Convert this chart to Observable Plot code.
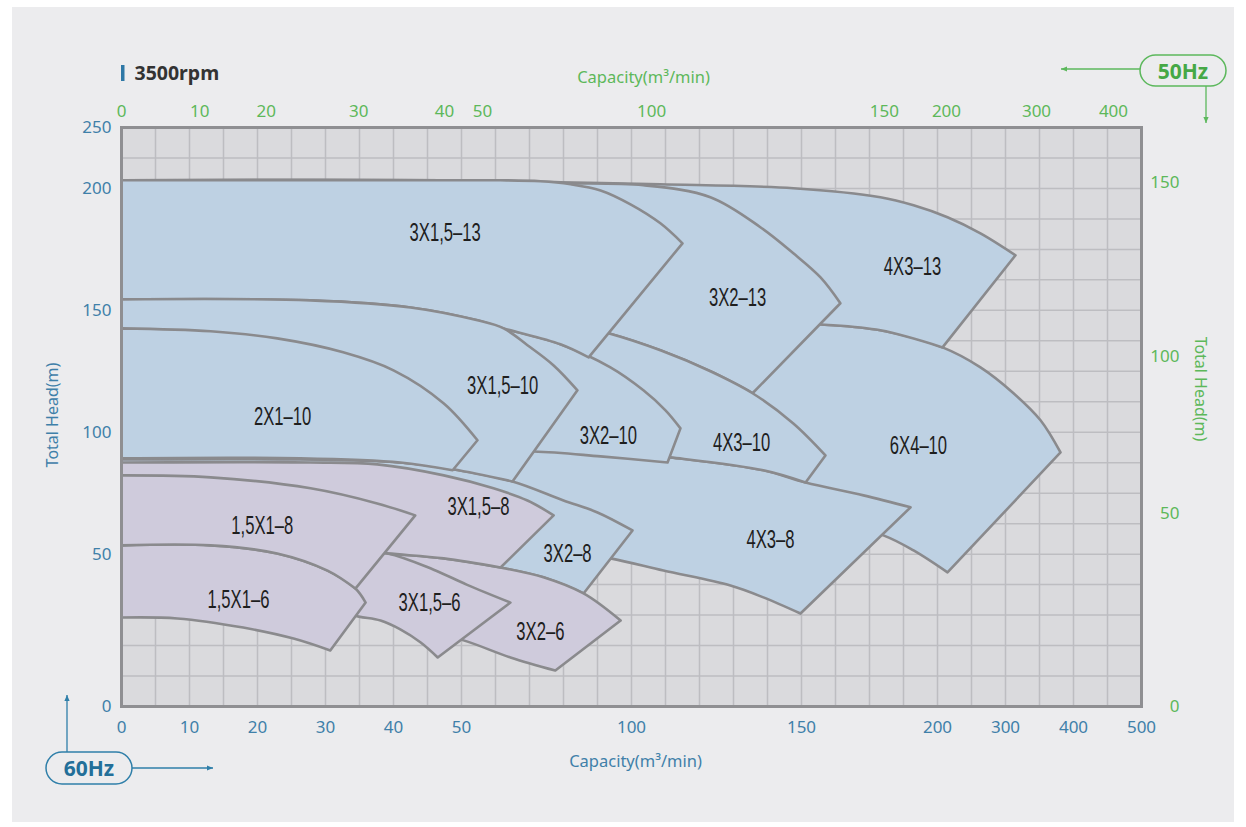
<!DOCTYPE html>
<html>
<head>
<meta charset="utf-8">
<script src="https://cdn.jsdelivr.net/npm/d3@7"></script>
<script src="https://cdn.jsdelivr.net/npm/@observablehq/plot@0.6"></script>
<style>
html, body { margin:0; padding:0; background:#ffffff; width:1246px; height:827px; overflow:hidden; }
#panel { position:absolute; left:12px; top:7px; width:1222px; height:815px; background:#ececee; }
#chart { position:absolute; left:0; top:0; }
</style>
</head>
<body>
<div id="panel"></div>
<div id="chart"></div>
<script>
// ---------- scale breakpoints / ticks ----------
const xDomain = [0, 50, 150, 200, 500];          // capacity 60Hz (piecewise)
const yDomain = [0, 50, 200, 250];               // head 60Hz (piecewise)
const bottomTicks = [0, 10, 20, 30, 40, 50, 100, 150, 200, 300, 400, 500];
const leftTicks = [0, 50, 100, 150, 200, 250];
const gridQ = [0,5,10,15,20,25,30,35,40,45,50,60,70,80,90,100,110,120,130,140,150,162.5,175,187.5,200,250,300,350,400,450,500];
const gridH = [0,10,20,30,40,50,62.5,75,87.5,100,112.5,125,137.5,150,162.5,175,187.5,200,225,250];
// 50Hz axes (labels placed at equivalent 60Hz positions)
const topTickLabels = ["0","10","20","30","40","50","100","150","200","300","400"];
const topTickQ = [0, 11.5, 21.3, 34.9, 47.5, 56.2, 105.9, 180.5, 213.2, 345.6, 458.8];
const rightTickLabels = ["0","50","100","150"];
const rightTickH = [0, 66.7, 131.1, 205.1];

// ---------- pump regions: top curve (left->right), bottom curve (right->left) ----------
const top_6x4_10 = [[0,154.5],[61.5,153.7],[90.9,152.1],[114.4,148.8],[135.6,145.9],[156.3,144.3],[179.0,141.8],[207.4,134.8],[263.2,126.6],[311.8,116.0],[351.5,104.9],[380.9,91.7]];
const bot_6x4_10 = [[214.7,44.0],[191.2,51.5],[180.1,57.7],[149.7,67.1],[120.3,75.3],[90.9,81.1],[48.4,80.2],[0,85.2]];
const top_4x3_13 = [[0,206.7],[48.4,206.7],[79.1,205.1],[108.5,203.4],[147.6,200.2],[179.0,196.4],[191.2,193.1],[214.7,188.2],[263.2,181.6],[314.7,172.6]];
const bot_4x3_13 = [[207.4,134.8],[179.0,141.8],[156.3,144.3],[135.6,145.9],[114.4,148.8],[90.9,152.1],[61.5,153.7],[0,154.5]];
const top_3x2_13 = [[0,206.7],[48.4,206.7],[79.1,204.3],[103.5,202.6],[123.2,196.4],[137.9,184.1],[147.6,173.4],[157.0,163.5],[164.3,152.9]];
const bot_3x2_13 = [[135.6,116.0],[123.2,125.0],[108.5,133.6],[93.2,140.6],[79.1,145.1],[61.5,149.2],[42.5,152.9],[27.8,154.1],[0,154.5]];
const top_4x3_8 = [[0,90.5],[48.4,91.7],[71.2,93.4],[90.9,92.6],[111.5,89.7],[138.8,84.4],[151.5,79.4],[172.8,74.1],[190.1,69.2]];
const bot_4x3_8 = [[149.7,30.5],[138.8,35.8],[129.1,39.7],[109.4,44.6],[93.8,48.6],[79.1,51.5],[61.5,53.6],[0,55.6]];
const top_4x3_10 = [[0,154.5],[27.8,154.1],[42.5,152.9],[61.5,149.2],[79.1,145.1],[93.2,140.6],[108.5,133.6],[123.2,125.0],[135.6,116.0],[147.6,103.6],[158.8,90.5]];
const bot_4x3_10 = [[151.5,79.4],[138.8,84.4],[111.5,89.7],[90.9,92.6],[71.2,93.4],[48.4,91.7],[0,90.5]];
const top_3x2_10 = [[0,154.5],[27.8,154.1],[42.5,151.2],[54.7,145.9],[62.4,142.6],[79.1,136.1],[93.8,126.6],[103.5,117.2],[110.0,109.0],[114.4,101.6]];
const bot_3x2_10 = [[110.6,87.6],[90.9,90.1],[71.2,92.1],[48.4,91.3],[0,90.1]];
const top_3x15_13 = [[0,206.7],[48.4,206.7],[61.5,206.7],[73.2,205.9],[82.1,203.4],[90.9,199.2],[99.7,193.5],[108.5,185.7],[115.0,177.5]];
const bot_3x15_13 = [[87.4,130.7],[79.1,136.1],[62.4,142.6],[54.7,145.9],[42.5,151.2],[27.8,154.1],[0,154.5]];
const top_3x2_8 = [[0,88.9],[26.3,88.9],[41.0,87.6],[48.7,84.8],[65.0,79.8],[80.0,72.0],[90.0,67.1],[100.3,59.7]];
const bot_3x2_8 = [[85.9,37.1],[74.1,42.4],[61.5,45.6],[47.4,48.6],[39.1,50.3],[30.7,52.7],[19.0,55.6],[0,57.7]];
const top_3x15_10 = [[0,154.5],[27.8,154.1],[42.5,151.2],[54.7,145.9],[62.4,142.6],[69.4,135.7],[77.1,127.4],[84.1,117.2]];
const bot_3x15_10 = [[65.0,79.8],[48.7,84.8],[41.0,87.6],[26.3,88.9],[0,88.9]];
const top_2x1_10 = [[0,142.6],[13.1,141.4],[22.9,138.5],[32.6,132.8],[40.0,125.4],[47.4,111.8],[54.7,96.7]];
const bot_2x1_10 = [[48.7,84.4],[41.0,87.6],[26.3,89.3],[0,89.3]];
const top_3x2_6 = [[0,57.7],[19.0,55.6],[30.7,52.7],[39.1,50.3],[47.4,48.6],[61.5,45.6],[74.1,42.4],[85.9,37.1],[96.8,28.2]];
const bot_3x2_6 = [[77.6,11.8],[64.4,16.1],[50.6,21.7],[44.0,25.0],[33.7,30.9],[19.0,34.8],[0,36.4]];
const top_3x15_6 = [[0,55.6],[19.0,54.0],[30.7,51.9],[39.1,50.3],[45.9,44.9],[51.5,40.0],[64.4,34.1]];
const bot_3x15_6 = [[46.5,16.1],[44.0,21.0],[41.0,25.3],[38.1,28.2],[34.9,29.5],[26.3,33.2],[11.6,35.5],[0,36.4]];
const top_3x15_8 = [[0,87.6],[27.8,87.6],[37.6,86.8],[47.4,82.3],[59.4,77.0],[69.4,72.0],[77.1,65.9]];
const bot_3x15_8 = [[61.5,45.6],[47.4,48.6],[39.1,50.3],[30.7,52.7],[19.0,55.6],[0,57.7]];
const top_15x1_6 = [[0,53.6],[13.1,53.6],[22.9,50.3],[30.3,44.6],[34.4,38.7],[35.9,34.1]];
const bot_15x1_6 = [[30.7,18.4],[25.3,22.3],[17.9,25.9],[8.2,28.9],[0,29.2]];
const top_15x1_8 = [[0,82.3],[13.1,81.5],[27.8,77.0],[37.6,70.8],[43.2,65.9]];
const bot_15x1_8 = [[34.4,38.7],[30.3,44.6],[22.9,50.3],[13.1,53.6],[0,53.6]];

// ---------- region labels ----------
const labelNames = ["3X1,5–13","3X2–13","4X3–13","3X1,5–10","2X1–10","3X2–10","4X3–10","6X4–10","3X1,5–8","1,5X1–8","3X2–8","4X3–8","1,5X1–6","3X1,5–6","3X2–6"];
const labelQ = [47.6, 131.2, 190.8, 62.1, 23.7, 93.2, 132.4, 193.0, 55.0, 20.7, 81.2, 140.9, 17.2, 45.3, 73.2];
const labelH = [181.6, 154.9, 167.6, 118.8, 106.1, 98.3, 95.4, 94.2, 69.2, 61.4, 49.9, 55.6, 34.8, 34.1, 24.6];

// ---------- styling ----------
const BLUE = "#bed1e3", PURPLE = "#cfcbdc", EDGE = "#8a8a8d";
const AX_BLUE = "#3f80a9", AX_GREEN = "#5db85a";

const drawOrder = [
  [top_6x4_10, bot_6x4_10, BLUE],
  [top_4x3_13, bot_4x3_13, BLUE],
  [top_3x2_13, bot_3x2_13, BLUE],
  [top_4x3_8, bot_4x3_8, BLUE],
  [top_4x3_10, bot_4x3_10, BLUE],
  [top_3x2_10, bot_3x2_10, BLUE],
  [top_3x15_13, bot_3x15_13, BLUE],
  [top_3x2_8, bot_3x2_8, BLUE],
  [top_3x15_10, bot_3x15_10, BLUE],
  [top_2x1_10, bot_2x1_10, BLUE],
  [top_3x2_6, bot_3x2_6, PURPLE],
  [top_3x15_6, bot_3x15_6, PURPLE],
  [top_3x15_8, bot_3x15_8, PURPLE],
  [top_15x1_6, bot_15x1_6, PURPLE],
  [top_15x1_8, bot_15x1_8, PURPLE]
];

// closed outline; corners repeated so the curve keeps them sharp
function outline(top, bot) {
  return [...top, top[top.length - 1], bot[0], ...bot, bot[bot.length - 1], top[0]];
}

const W = 1246, H = 827, ML = 121, MR = 105, MT = 127, MB = 121;
const col = (W - ML - MR) / 30, row = (H - MT - MB) / 19;

const shapeMarks = drawOrder.map(([top, bot, fill]) =>
  Plot.line(outline(top, bot), {
    x: d => d[0], y: d => d[1], curve: "catmull-rom",
    fill, stroke: EDGE, strokeWidth: 2.6, strokeLinejoin: "round"
  })
);

const svg = Plot.plot({
  width: W, height: H,
  marginLeft: ML, marginRight: MR, marginTop: MT, marginBottom: MB,
  style: { background: "transparent", fontFamily: "'Noto Sans', sans-serif", overflow: "visible" },
  x: { type: "linear", domain: xDomain, range: [ML, ML + 10 * col, ML + 20 * col, ML + 24 * col, ML + 30 * col] },
  y: { type: "linear", domain: yDomain, range: [H - MB, H - MB - 5 * row, H - MB - 17 * row, MT] },
  marks: [
    Plot.frame({ fill: "#dadadd" }),
    Plot.ruleX(gridQ, { stroke: "#bdbdc1", strokeWidth: 1.5 }),
    Plot.ruleY(gridH, { stroke: "#bdbdc1", strokeWidth: 1.5 }),
    ...shapeMarks,
    Plot.text(labelNames, {
      x: (d, i) => labelQ[i], y: (d, i) => labelH[i], text: d => d,
      fontSize: 25, fill: "#1e1e1e",
      fontFamily: "'Liberation Sans', Arial, sans-serif"
    }),
    Plot.frame({ stroke: "#8f8f92", strokeWidth: 3 }),
    Plot.axisX(bottomTicks, { anchor: "bottom", tickSize: 0, tickPadding: 14, fontSize: 17, color: AX_BLUE, label: null, tickFormat: d => String(d) }),
    Plot.axisY(leftTicks, { anchor: "left", tickSize: 0, tickPadding: 10, fontSize: 17, color: AX_BLUE, label: null, tickFormat: d => String(d) }),
    Plot.text(topTickLabels, { x: (d, i) => topTickQ[i], text: d => d, frameAnchor: "top", lineAnchor: "middle", dy: -16, fill: AX_GREEN, fontSize: 17 }),
    Plot.text(rightTickLabels, { y: (d, i) => rightTickH[i], text: d => d, frameAnchor: "right", lineAnchor: "middle", dx: 38, textAnchor: "end", fill: AX_GREEN, fontSize: 17 }),
    Plot.text(["Capacity(m³/min)"], { frameAnchor: "top", lineAnchor: "middle", textAnchor: "middle", dx: 12, dy: -50, fill: AX_GREEN, fontSize: 16.5 }),
    Plot.text(["Capacity(m³/min)"], { frameAnchor: "bottom", lineAnchor: "middle", textAnchor: "middle", dx: 4, dy: 55, fill: AX_BLUE, fontSize: 16.5 }),
    Plot.text(["Total Head(m)"], { frameAnchor: "left", lineAnchor: "middle", textAnchor: "middle", dx: -69, dy: -2, rotate: -90, fill: AX_BLUE, fontSize: 16 }),
    Plot.text(["Total Head(m)"], { frameAnchor: "right", lineAnchor: "middle", textAnchor: "middle", dx: 59, dy: -28, rotate: 90, fill: AX_GREEN, fontSize: 16 }),
    Plot.text(["3500rpm"], { frameAnchor: "top-left", lineAnchor: "middle", dx: 13, dy: -54, textAnchor: "start", fontSize: 19.5, fontWeight: "bold", fill: "#333" })
  ]
});
document.getElementById("chart").appendChild(svg);

// condense the region labels horizontally (narrow lettering as in the source)
const labelSet = new Set(labelNames);
d3.select(svg).selectAll("text").each(function () {
  if (!labelSet.has(this.textContent)) return;
  const t = this.getAttribute("transform");
  if (t) {
    this.setAttribute("transform", t + " scale(0.665,1)");
  } else {
    const x = this.getAttribute("x") || 0, y = this.getAttribute("y") || 0;
    this.removeAttribute("x"); this.removeAttribute("y");
    this.setAttribute("transform", `translate(${x},${y}) scale(0.665,1)`);
  }
});

// ---------- decorations: title bar, frequency badges and arrows ----------
const g = d3.select(svg).append("g");
g.append("rect").attr("x", 121).attr("y", 65).attr("width", 3.5).attr("height", 16).attr("fill", "#2e78a6");

function badge(x, y, w, h, label, stroke, textFill) {
  g.append("rect").attr("x", x).attr("y", y).attr("width", w).attr("height", h)
    .attr("rx", h / 2).attr("fill", "none").attr("stroke", stroke).attr("stroke-width", 1.5);
  g.append("text").attr("x", x + w / 2).attr("y", y + h / 2).attr("text-anchor", "middle")
    .attr("dominant-baseline", "central").attr("font-family", "'Noto Sans', sans-serif")
    .attr("font-weight", "bold").attr("font-size", 21).attr("fill", textFill).text(label);
}
function arrow(x1, y1, x2, y2, color) {
  g.append("line").attr("x1", x1).attr("y1", y1).attr("x2", x2).attr("y2", y2)
    .attr("stroke", color).attr("stroke-width", 1.3);
  const a = Math.atan2(y2 - y1, x2 - x1), L = 6, Wd = 2.6;
  const bx = x2 - L * Math.cos(a), by = y2 - L * Math.sin(a);
  const px = -Math.sin(a) * Wd, py = Math.cos(a) * Wd;
  g.append("polygon").attr("points", `${x2},${y2} ${bx + px},${by + py} ${bx - px},${by - py}`).attr("fill", color);
}
badge(46, 752, 86, 32, "60Hz", "#2f7fa9", "#236f99");
arrow(67, 752, 67, 695, "#2f7fa9");
arrow(132, 768, 213, 768, "#2f7fa9");
badge(1140, 55, 86, 31, "50Hz", "#5cb85c", "#46a846");
arrow(1140, 69, 1061, 69, "#5cb85c");
arrow(1206, 86, 1206, 123, "#5cb85c");
</script>
</body>
</html>
